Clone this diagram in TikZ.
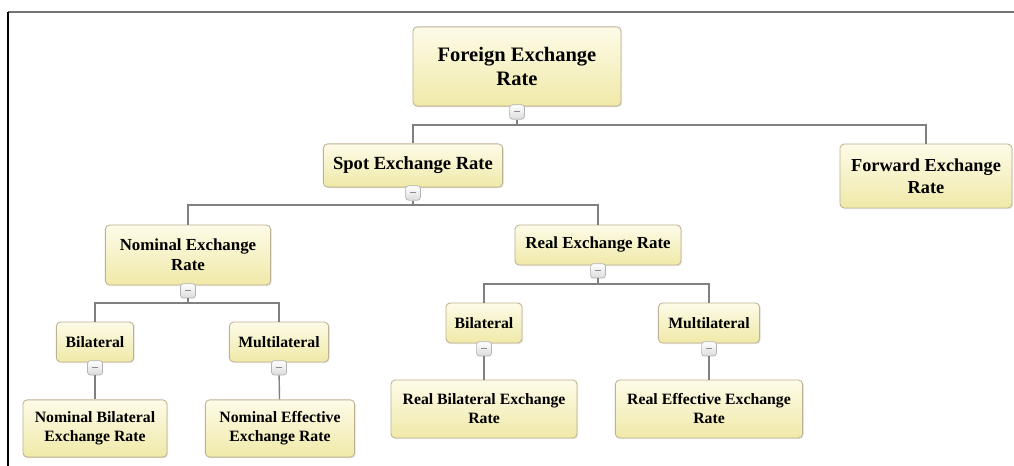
\documentclass[tikz,border=0pt]{standalone}
\usepackage{fontspec}
\setmainfont{Liberation Serif}
\usepackage{tikz}
\usetikzlibrary{positioning,shadows}

\definecolor{boxtop}{HTML}{FDFBE8}
\definecolor{boxbot}{HTML}{F0E9A8}
\definecolor{boxline}{HTML}{BDB193}
\definecolor{wire}{HTML}{808080}

\begin{document}
\begin{tikzpicture}[
    x=0.025cm, y=-0.025cm,
    box/.style={draw=boxline, rounded corners=3pt, align=center, inner sep=2pt,
        top color=boxtop, bottom color=boxbot, line width=0.6pt,
        drop shadow={opacity=0.18, shadow xshift=0.8pt, shadow yshift=-0.8pt},
        font=\bfseries\fontsize{11.2}{13.5}\selectfont},
    handle/.style={draw=black!30, rounded corners=2pt, minimum width=0.37cm, minimum height=0.36cm,
        inner sep=0pt, top color=white, bottom color=black!14, line width=0.5pt},
    link/.style={draw=wire, line width=1pt}
]
\useasboundingbox (0,0) rectangle (1014,466);
% frame of the page
\draw[black!55, line width=1pt] (8,12) -- (1014,12);
\draw[black, line width=1pt] (8,12) -- (8,466);

% boxes
\node[box, minimum width=5.2cm, minimum height=1.98cm, font=\bfseries\fontsize{14.6}{17.5}\selectfont] (fer) at (517,66.5) {Foreign Exchange\\Rate};
\node[box, minimum width=4.48cm, minimum height=1.08cm, font=\bfseries\fontsize{13.2}{16}\selectfont] (spot) at (413,165.5) {Spot Exchange Rate};
\node[box, minimum width=4.3cm, minimum height=1.6cm, font=\bfseries\fontsize{13}{16}\selectfont] (fwd) at (926,176) {Forward Exchange\\Rate};
\node[box, minimum width=4.13cm, minimum height=1.5cm, font=\bfseries\fontsize{12}{14.5}\selectfont] (nom) at (188,255) {Nominal Exchange\\Rate};
\node[box, minimum width=4.15cm, minimum height=1.0cm, font=\bfseries\fontsize{12}{14.5}\selectfont] (real) at (598,245) {Real Exchange Rate};
\node[box, minimum width=1.93cm, minimum height=1.0cm] (bil1) at (95,342) {Bilateral};
\node[box, minimum width=2.48cm, minimum height=1.0cm] (mul1) at (279,342) {Multilateral};
\node[box, minimum width=1.9cm, minimum height=1.0cm] (bil2) at (484,323) {Bilateral};
\node[box, minimum width=2.53cm, minimum height=1.0cm] (mul2) at (709,323) {Multilateral};
\node[box, minimum width=3.6cm, minimum height=1.43cm] (nber) at (95,428.5) {Nominal Bilateral\\Exchange Rate};
\node[box, minimum width=3.73cm, minimum height=1.43cm] (neer) at (280,428.5) {Nominal Effective\\Exchange Rate};
\node[box, minimum width=4.65cm, minimum height=1.45cm] (rber) at (484,409) {Real Bilateral Exchange\\Rate};
\node[box, minimum width=4.68cm, minimum height=1.45cm] (reer) at (709,409) {Real Effective Exchange\\Rate};

% collapse handles
\foreach \n in {fer,spot,nom,real,bil1,mul1,bil2,mul2}
  \node[handle, below=-1.5pt of \n] (\n h) {\textcolor{black!45}{\rule[0.5pt]{4pt}{1.2pt}}};

% buses
\coordinate (b1) at (517,125);
\coordinate (b2) at (413,205);
\coordinate (b3) at (188,303);
\coordinate (b4) at (598,284);

% links
\draw[link] (ferh) -- (b1);
\draw[link] (spot) |- (b1) -| (fwd);
\draw[link] (spoth) -- (b2);
\draw[link] (nom) |- (b2) -| (real);
\draw[link] (nomh) -- (b3);
\draw[link] (bil1) |- (b3) -| (mul1);
\draw[link] (realh) -- (b4);
\draw[link] (bil2) |- (b4) -| (mul2);
\draw[link] (bil1h) -- (nber);
\draw[link] (mul1h) -- (neer);
\draw[link] (bil2h) -- (rber);
\draw[link] (mul2h) -- (reer);
\end{tikzpicture}
\end{document}
